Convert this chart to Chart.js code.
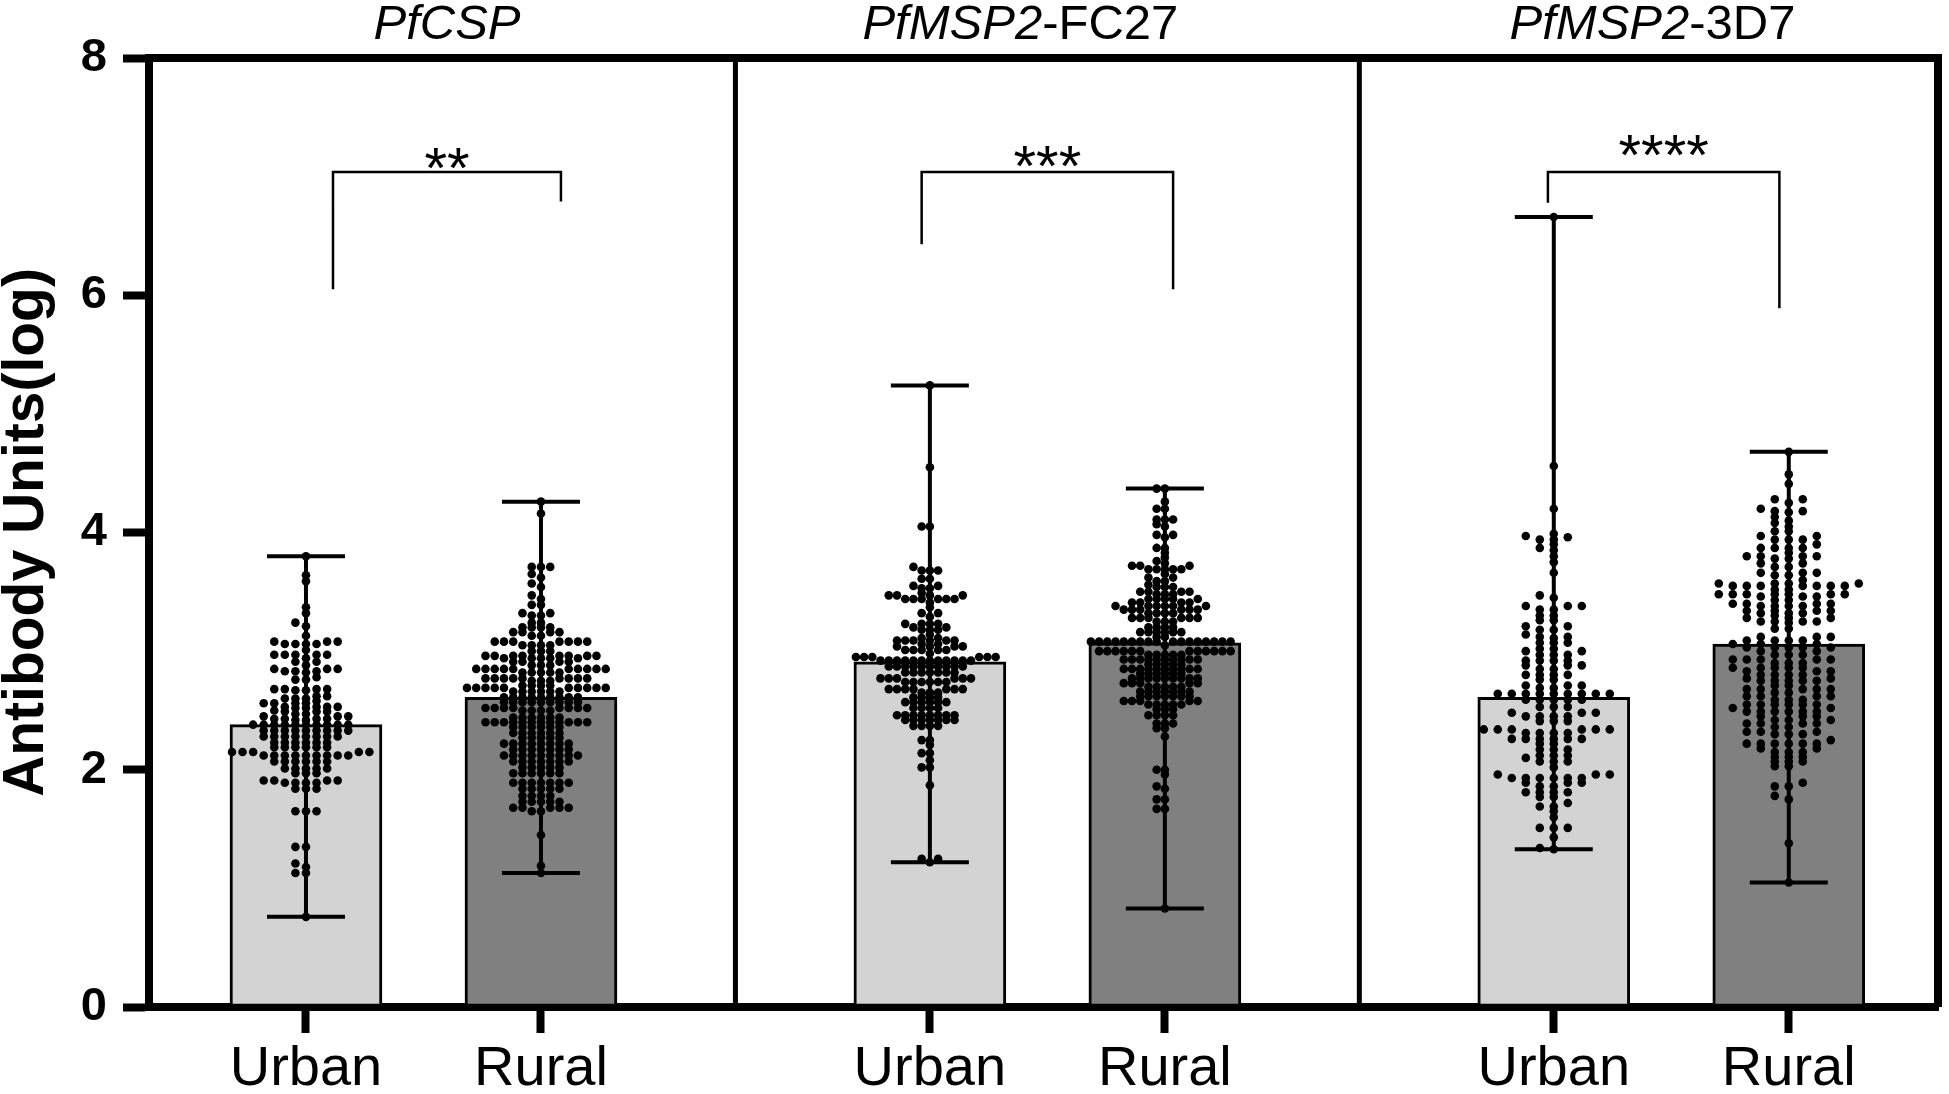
<!DOCTYPE html>
<html lang="en">
<head>
<meta charset="UTF-8">
<title>Antibody Units: Urban vs Rural</title>
<script src="https://cdn.jsdelivr.net/npm/chart.js"></script>
<style>
  html, body { margin: 0; padding: 0; background: #fff; overflow: hidden; }
  canvas { display: block; }
</style>
</head>
<body>
<canvas id="chartCanvas" width="1949" height="1094"></canvas>
<script>
const FONT = "'Liberation Sans', Arial, Helvetica, sans-serif";

// panels / groups
const antigens = ['PfCSP', 'PfMSP2-FC27', 'PfMSP2-3D7'];
const titleItalic = ['PfCSP', 'PfMSP2', 'PfMSP2'];
const titlePlain = ['', '-FC27', '-3D7'];
const groups = ['Urban', 'Rural'];
const yTicks = [0, 2, 4, 6, 8];

// bar height and min-max whiskers (one per panel)
const urbanMean = [2.38, 2.91, 2.61];
const ruralMean = [2.61, 3.07, 3.06];
const urbanMin = [0.76, 1.22, 1.33];
const urbanMax = [3.80, 5.24, 6.66];
const ruralMin = [1.13, 0.83, 1.05];
const ruralMax = [4.26, 4.37, 4.68];

// significance brackets
const stars = ['**', '***', '****'];
const bracketTop = [7.04, 7.04, 7.04];
const bracketLeftEnd = [6.05, 6.43, 6.78];
const bracketRightEnd = [6.79, 6.05, 5.89];
const starLevel = [7.18, 7.20, 7.29];

// individual subjects
const cspUrban = [3.80, 3.64, 3.59, 3.37, 3.32, 3.24, 3.21, 3.13,
  3.08, 3.08, 3.08, 3.06, 3.06, 3.06, 3.06, 3.01,
  2.97, 2.97, 2.97, 2.97, 2.97, 2.94, 2.91, 2.91, 2.88,
  2.85, 2.85, 2.85, 2.83, 2.83, 2.83, 2.82, 2.78, 2.76, 2.76,
  2.68, 2.68, 2.68, 2.68, 2.67, 2.67, 2.62, 2.62, 2.60, 2.60, 2.60, 2.58,
  2.56, 2.56, 2.56, 2.56, 2.53, 2.53, 2.53, 2.53, 2.52, 2.52, 2.50,
  2.49, 2.49, 2.49, 2.47, 2.47, 2.45, 2.45, 2.45, 2.43, 2.43, 2.43, 2.43, 2.42, 2.42,
  2.38, 2.38, 2.38, 2.38, 2.38, 2.38, 2.38, 2.38, 2.38, 2.38,
  2.33, 2.33, 2.33, 2.33, 2.33, 2.33, 2.33, 2.33, 2.33,
  2.28, 2.28, 2.28, 2.28, 2.28, 2.28, 2.28, 2.28,
  2.23, 2.23, 2.23, 2.23, 2.23, 2.23,
  2.19, 2.19, 2.19, 2.19, 2.19, 2.19,
  2.15, 2.15, 2.15, 2.15, 2.15,
  2.12, 2.12, 2.12, 2.12, 2.12, 2.12, 2.12, 2.12, 2.12,
  2.07, 2.07, 2.07, 2.07, 2.07, 2.07,
  2.01, 2.01, 2.01, 2.01, 2.01,
  1.97, 1.97, 1.97, 1.91, 1.91, 1.91, 1.91, 1.89, 1.89, 1.89, 1.89,
  1.84, 1.84, 1.84, 1.65, 1.65, 1.65, 1.35, 1.35, 1.21, 1.18, 1.13, 1.13, 0.76];

const cspRural = [4.26, 4.16, 3.71, 3.71, 3.71, 3.65, 3.62, 3.57, 3.54, 3.47, 3.44, 3.39, 3.39,
  3.32, 3.32, 3.30, 3.30, 3.24, 3.24, 3.20, 3.20, 3.20, 3.20, 3.16, 3.16, 3.16, 3.16, 3.13, 3.13,
  3.08, 3.08, 3.08, 3.08, 3.08, 3.08, 3.08, 3.05, 3.05, 3.05, 3.05, 3.00, 3.00, 3.00,
  2.96, 2.96, 2.96, 2.96, 2.96, 2.96, 2.96, 2.96, 2.94, 2.94, 2.94, 2.94, 2.94,
  2.91, 2.91, 2.91, 2.91, 2.88, 2.88, 2.88,
  2.85, 2.85, 2.85, 2.85, 2.85, 2.85, 2.85, 2.85, 2.85, 2.85, 2.82, 2.82, 2.82, 2.82, 2.82,
  2.77, 2.77, 2.77, 2.77, 2.77, 2.77, 2.77, 2.77, 2.77, 2.75, 2.75, 2.75, 2.71, 2.71, 2.71, 2.71,
  2.69, 2.69, 2.69, 2.69, 2.69, 2.69, 2.69, 2.69, 2.69, 2.69, 2.66, 2.66, 2.66, 2.66, 2.66, 2.66,
  2.61, 2.61, 2.61, 2.61, 2.61, 2.61, 2.61, 2.61, 2.61,
  2.57, 2.57, 2.57, 2.57, 2.57, 2.57, 2.57, 2.57, 2.57,
  2.52, 2.52, 2.52, 2.52, 2.52, 2.52, 2.52, 2.52, 2.50, 2.50, 2.50, 2.50,
  2.44, 2.44, 2.44, 2.44, 2.44, 2.44,
  2.40, 2.40, 2.40, 2.40, 2.40, 2.40, 2.40, 2.40, 2.40, 2.40, 2.40, 2.40,
  2.36, 2.36, 2.36, 2.36, 2.36, 2.36, 2.31, 2.31, 2.31, 2.31, 2.31, 2.31,
  2.27, 2.27, 2.27, 2.27, 2.27, 2.22, 2.22, 2.22, 2.22, 2.22, 2.22, 2.22, 2.22,
  2.17, 2.17, 2.17, 2.17, 2.17, 2.17, 2.17,
  2.12, 2.12, 2.12, 2.12, 2.12, 2.12, 2.12, 2.12, 2.12,
  2.07, 2.07, 2.07, 2.07, 2.07, 2.07, 2.07, 2.02, 2.02, 2.02, 2.02, 2.02,
  1.97, 1.97, 1.97, 1.97, 1.97, 1.97, 1.89, 1.89, 1.89, 1.89, 1.89, 1.89, 1.89,
  1.84, 1.84, 1.84, 1.84, 1.84, 1.78, 1.78, 1.78, 1.78,
  1.73, 1.73, 1.73, 1.73, 1.73, 1.68, 1.68, 1.68, 1.68, 1.68, 1.65, 1.65,
  1.45, 1.19, 1.13];

const fc27Urban = [5.24, 4.55, 4.05, 4.05, 3.71, 3.68, 3.68, 3.68, 3.61, 3.61, 3.55, 3.55, 3.53, 3.53,
  3.49, 3.47, 3.47, 3.47, 3.47, 3.44, 3.44, 3.44, 3.44, 3.44, 3.44, 3.41, 3.37, 3.32, 3.32, 3.29,
  3.23, 3.23, 3.23, 3.23, 3.20, 3.20, 3.18, 3.18, 3.18, 3.14, 3.11, 3.11,
  3.09, 3.09, 3.09, 3.09, 3.09, 3.09, 3.06, 3.06, 3.04, 3.04, 3.04, 3.04,
  3.01, 3.01, 3.01, 3.01, 3.01, 2.98, 2.95, 2.95, 2.95, 2.95, 2.95, 2.95,
  2.92, 2.92, 2.92, 2.92, 2.92, 2.92, 2.92, 2.92, 2.92, 2.92, 2.92, 2.92,
  2.87, 2.87, 2.87, 2.87, 2.87, 2.87, 2.87, 2.87, 2.87, 2.87,
  2.82, 2.82, 2.82, 2.82, 2.82, 2.82, 2.82, 2.77, 2.77, 2.77, 2.77, 2.77, 2.77,
  2.74, 2.74, 2.74, 2.74, 2.74, 2.74, 2.68, 2.68, 2.68, 2.68, 2.68, 2.68, 2.68,
  2.65, 2.65, 2.65, 2.61, 2.61, 2.61, 2.61, 2.57, 2.57, 2.57, 2.57, 2.57, 2.57,
  2.52, 2.52, 2.52, 2.52, 2.46, 2.46, 2.46, 2.46, 2.46, 2.46, 2.46, 2.46,
  2.42, 2.42, 2.42, 2.42, 2.42, 2.42, 2.42, 2.37, 2.37, 2.37, 2.37,
  2.25, 2.25, 2.21, 2.14, 2.14, 2.08, 2.02, 2.02, 1.87, 1.25, 1.25, 1.22];

const fc27Rural = [4.37, 4.37, 4.26, 4.20, 4.20, 4.11, 4.11, 4.11, 4.07, 4.05, 3.98, 3.98, 3.96,
  3.87, 3.87, 3.83, 3.79, 3.76, 3.74, 3.72, 3.72, 3.72, 3.69, 3.69, 3.69, 3.69, 3.69,
  3.65, 3.62, 3.62, 3.59, 3.59, 3.56, 3.54, 3.54, 3.54, 3.50, 3.50, 3.50, 3.50, 3.48, 3.48, 3.48,
  3.44, 3.44, 3.44, 3.44, 3.44, 3.41, 3.41, 3.41, 3.41,
  3.38, 3.38, 3.38, 3.38, 3.38, 3.38, 3.35, 3.35, 3.35, 3.35, 3.35, 3.35, 3.32, 3.32, 3.32, 3.32,
  3.28, 3.28, 3.28, 3.28, 3.28, 3.28, 3.25, 3.25, 3.25, 3.20, 3.20, 3.20, 3.20,
  3.16, 3.16, 3.16, 3.16, 3.16, 3.16, 3.12, 3.12,
  3.08, 3.08, 3.08, 3.08, 3.08, 3.08, 3.08, 3.08, 3.08, 3.08, 3.08, 3.08, 3.08, 3.08, 3.08, 3.08, 3.08,
  3.05, 3.00, 3.00, 3.00, 3.00, 3.00, 3.00, 3.00, 3.00, 3.00, 3.00, 3.00, 3.00,
  2.97, 2.97, 2.97, 2.97, 2.97, 2.93, 2.93, 2.93, 2.93, 2.93, 2.93, 2.93, 2.93, 2.93, 2.93,
  2.89, 2.89, 2.89, 2.89, 2.89, 2.85, 2.85, 2.85, 2.85, 2.85, 2.85, 2.85, 2.85, 2.85, 2.85,
  2.81, 2.81, 2.81, 2.81, 2.81, 2.81, 2.77, 2.77, 2.77, 2.77, 2.77, 2.77, 2.77, 2.77, 2.77,
  2.73, 2.73, 2.73, 2.73, 2.73, 2.70, 2.70, 2.70, 2.70, 2.70,
  2.66, 2.66, 2.66, 2.66, 2.66, 2.66, 2.66, 2.62, 2.62, 2.62, 2.62, 2.62, 2.62, 2.62,
  2.58, 2.58, 2.58, 2.58, 2.58, 2.55, 2.55, 2.55, 2.55, 2.55, 2.51, 2.51, 2.51,
  2.46, 2.46, 2.46, 2.46, 2.39, 2.39, 2.39, 2.35, 2.35, 2.28,
  2.00, 2.00, 1.96, 1.86, 1.84, 1.75, 1.75, 1.67, 1.67, 0.83];

const d7Urban = [6.66, 4.56, 4.20, 3.99, 3.97, 3.96, 3.94, 3.94, 3.90, 3.87, 3.85, 3.80, 3.75, 3.66,
  3.47, 3.45, 3.38, 3.38, 3.38, 3.35, 3.35, 3.30, 3.30, 3.26, 3.26, 3.21, 3.21, 3.18, 3.18,
  3.14, 3.12, 3.12, 3.11, 3.07, 3.07, 3.07, 3.02, 3.02, 3.00, 3.00, 2.97, 2.97, 2.97,
  2.92, 2.92, 2.92, 2.92, 2.88, 2.88, 2.88, 2.85, 2.85, 2.80, 2.80, 2.80, 2.80, 2.76, 2.76,
  2.71, 2.71, 2.71, 2.69, 2.69, 2.64, 2.64, 2.64, 2.64, 2.64, 2.64, 2.64, 2.64, 2.64,
  2.59, 2.59, 2.59, 2.59, 2.59, 2.53, 2.53, 2.53, 2.48, 2.48, 2.48, 2.45, 2.45, 2.45, 2.45,
  2.41, 2.41, 2.41, 2.34, 2.34, 2.34, 2.34, 2.34, 2.34, 2.31, 2.31, 2.31, 2.31,
  2.26, 2.26, 2.26, 2.26, 2.26, 2.26, 2.22, 2.22, 2.17, 2.17, 2.17, 2.12, 2.12, 2.12, 2.10,
  2.07, 2.07, 2.07, 2.02, 1.96, 1.96, 1.96, 1.93, 1.93, 1.93, 1.93, 1.93, 1.93,
  1.89, 1.89, 1.89, 1.86, 1.86, 1.81, 1.81, 1.81, 1.81, 1.77, 1.77, 1.72, 1.69, 1.69,
  1.65, 1.60, 1.51, 1.51, 1.51, 1.43, 1.34, 1.33];

const d7Rural = [4.68, 4.49, 4.41, 4.28, 4.28, 4.25, 4.20, 4.18, 4.18, 4.17, 4.13, 4.10, 4.08, 4.05,
  4.01, 4.01, 3.97, 3.97, 3.94, 3.94, 3.94, 3.90, 3.87, 3.87, 3.87, 3.87, 3.83,
  3.80, 3.80, 3.80, 3.80, 3.78, 3.78, 3.74, 3.74, 3.71, 3.71, 3.66, 3.66, 3.66, 3.64, 3.64, 3.60,
  3.57, 3.57, 3.57, 3.57, 3.55, 3.55, 3.55, 3.55, 3.55, 3.55, 3.55, 3.52, 3.52,
  3.48, 3.48, 3.48, 3.48, 3.48, 3.48, 3.48, 3.46, 3.46, 3.46, 3.43, 3.43,
  3.40, 3.40, 3.40, 3.40, 3.38, 3.38, 3.38, 3.38, 3.34, 3.34, 3.34, 3.34, 3.32, 3.32, 3.32, 3.30,
  3.28, 3.28, 3.28, 3.25, 3.25, 3.25, 3.25, 3.24, 3.19, 3.19, 3.12, 3.12, 3.12,
  3.09, 3.09, 3.09, 3.09, 3.06, 3.06, 3.06, 3.03, 3.03, 3.03, 3.03, 3.03, 3.00, 3.00,
  2.97, 2.97, 2.97, 2.93, 2.93, 2.93, 2.93, 2.93, 2.90, 2.90, 2.90,
  2.86, 2.86, 2.86, 2.86, 2.86, 2.83, 2.83, 2.83, 2.80, 2.80, 2.80, 2.80, 2.77, 2.77,
  2.75, 2.75, 2.75, 2.75, 2.75, 2.71, 2.71, 2.68, 2.68, 2.68, 2.68, 2.68, 2.65, 2.65,
  2.62, 2.62, 2.62, 2.62, 2.59, 2.59, 2.59, 2.55, 2.55, 2.55, 2.55, 2.55, 2.55, 2.52, 2.52,
  2.49, 2.49, 2.49, 2.49, 2.49, 2.49, 2.45, 2.45, 2.45, 2.42, 2.42, 2.42,
  2.39, 2.39, 2.39, 2.39, 2.36, 2.36, 2.32, 2.32, 2.32, 2.30, 2.30, 2.30, 2.25,
  2.22, 2.22, 2.22, 2.22, 2.22, 2.22, 2.18, 2.18, 2.15, 2.15, 2.15, 2.11, 2.11, 2.11,
  2.07, 2.07, 2.07, 2.03, 2.03, 1.89, 1.86, 1.86, 1.78, 1.75, 1.38, 1.05];

// layout in x-axis units (one unit = Urban-to-Rural spacing)
const PANEL_STEP = 2.655;
const X_MIN = -0.668, X_MAX = 6.945;
const titleX = [0.60, 3.04, 5.73];
const bracketLeftX = [0.115, 2.62, 5.285];
const bracketRightX = [1.085, 3.69, 6.27];

const barX = [], barY = [], barLow = [], barHigh = [];
antigens.forEach((a, p) => {
  barX.push(p * PANEL_STEP, p * PANEL_STEP + 1);
  barY.push(urbanMean[p], ruralMean[p]);
  barLow.push(urbanMin[p], ruralMin[p]);
  barHigh.push(urbanMax[p], ruralMax[p]);
});
const dotSets = [cspUrban, cspRural, fc27Urban, fc27Rural, d7Urban, d7Rural];

const decor = {
  id: 'decor',
  afterDatasetDraw(chart, args) {
    if (args.index !== 0) return;
    // min-max whiskers on top of the bars
    const { ctx, scales: { x: xs, y: ys } } = chart;
    ctx.save();
    ctx.strokeStyle = '#000';
    ctx.lineWidth = 4;
    barX.forEach((bx, i) => {
      const px = xs.getPixelForValue(bx);
      const top = ys.getPixelForValue(barHigh[i]);
      const bot = ys.getPixelForValue(barLow[i]);
      ctx.beginPath();
      ctx.moveTo(px, top); ctx.lineTo(px, bot);
      ctx.moveTo(px - 39, top); ctx.lineTo(px + 39, top);
      ctx.moveTo(px - 39, bot); ctx.lineTo(px + 39, bot);
      ctx.stroke();
    });
    ctx.restore();
  },
  afterDraw(chart) {
    const { ctx, chartArea: a, scales: { x: xs, y: ys } } = chart;
    ctx.save();
    ctx.strokeStyle = '#000';
    ctx.fillStyle = '#000';

    // closing frame (top, right) and panel dividers
    ctx.lineWidth = 8;
    ctx.beginPath();
    ctx.moveTo(a.left - 4, a.top); ctx.lineTo(a.right + 4, a.top);
    ctx.moveTo(a.right, a.top); ctx.lineTo(a.right, a.bottom);
    ctx.stroke();
    ctx.lineWidth = 5;
    for (let p = 0; p < antigens.length - 1; p++) {
      const dx = xs.getPixelForValue(p * PANEL_STEP + (1 + PANEL_STEP) / 2);
      ctx.beginPath(); ctx.moveTo(dx, a.top); ctx.lineTo(dx, a.bottom); ctx.stroke();
    }

    // brackets + stars
    ctx.lineWidth = 2.5;
    ctx.textAlign = 'center';
    ctx.textBaseline = 'alphabetic';
    ctx.font = `58px ${FONT}`;
    antigens.forEach((name, p) => {
      const x1 = xs.getPixelForValue(bracketLeftX[p]);
      const x2 = xs.getPixelForValue(bracketRightX[p]);
      const yt = ys.getPixelForValue(bracketTop[p]);
      ctx.beginPath();
      ctx.moveTo(x1, ys.getPixelForValue(bracketLeftEnd[p]));
      ctx.lineTo(x1, yt); ctx.lineTo(x2, yt);
      ctx.lineTo(x2, ys.getPixelForValue(bracketRightEnd[p]));
      ctx.stroke();
      ctx.fillText(stars[p], (x1 + x2) / 2, ys.getPixelForValue(starLevel[p]) + 0.57 * 58);
    });

    // panel titles, gene name part in italics
    const size = 49;
    antigens.forEach((name, p) => {
      ctx.font = `italic ${size}px ${FONT}`;
      const w1 = ctx.measureText(titleItalic[p]).width;
      ctx.font = `${size}px ${FONT}`;
      const w2 = ctx.measureText(titlePlain[p]).width;
      const x0 = xs.getPixelForValue(titleX[p]) - (w1 + w2) / 2;
      const yb = a.top - 19.5;
      ctx.textAlign = 'left';
      ctx.font = `italic ${size}px ${FONT}`;
      ctx.fillText(titleItalic[p], x0, yb);
      ctx.font = `${size}px ${FONT}`;
      ctx.fillText(titlePlain[p], x0 + w1, yb);
    });
    ctx.restore();
  }
};

Chart.defaults.font.family = FONT;
Chart.defaults.color = '#000';

const chart = new Chart(document.getElementById('chartCanvas'), {
  type: 'bar',
  data: {
    datasets: [
      {
        type: 'bar',
        data: barX.map((x, i) => ({ x, y: barY[i] })),
        backgroundColor: barX.map((x, i) => (i % 2 ? '#808080' : '#d3d3d3')),
        borderColor: '#000',
        borderWidth: 3,
        borderSkipped: false,
        barThickness: 152,
        order: 1
      },
      ...dotSets.map(() => ({
        type: 'scatter',
        data: [],
        pointRadius: 4.3,
        pointHoverRadius: 4.3,
        pointBackgroundColor: '#000',
        pointBorderWidth: 0,
        order: 0
      }))
    ]
  },
  options: {
    responsive: false,
    animation: false,
    devicePixelRatio: 1,
    layout: { padding: { top: 58, right: 11, bottom: 0, left: 0 } },
    plugins: { legend: { display: false }, tooltip: { enabled: false } },
    scales: {
      x: {
        type: 'linear',
        min: X_MIN,
        max: X_MAX,
        offset: false,
        afterBuildTicks: s => { s.ticks = barX.map(value => ({ value })); },
        afterFit: s => { s.height = 87; },
        ticks: {
          callback: (v, i) => groups[i % 2],
          color: '#000',
          font: { size: 56 },
          padding: 3,
          maxRotation: 0,
          minRotation: 0,
          autoSkip: false
        },
        grid: { offset: false, drawOnChartArea: false, tickLength: 26, tickWidth: 8, tickColor: '#000' },
        border: { display: true, color: '#000', width: 8 }
      },
      y: {
        min: 0,
        max: 8,
        afterBuildTicks: s => { s.ticks = yTicks.map(value => ({ value })); },
        afterFit: s => { s.width = 149; },
        ticks: { color: '#000', font: { size: 47, weight: 'bold' }, padding: 16 },
        grid: { drawOnChartArea: false, tickLength: 26, tickWidth: 8, tickColor: '#000' },
        border: { display: true, color: '#000', width: 8 },
        title: {
          display: true,
          text: 'Antibody Units(log)',
          color: '#000',
          font: { size: 57, weight: 'bold' },
          padding: { top: -7, bottom: 0 }
        }
      }
    }
  },
  plugins: [decor]
});

// Prism-like column scatter: stack dots in columns around the bar centre
function swarm(values, centre) {
  const xs = chart.scales.x, ys = chart.scales.y;
  const cx = xs.getPixelForValue(centre);
  const cols = {};
  const placed = [];
  values.slice().sort((a, b) => a - b).forEach(v => {
    const py = ys.getPixelForValue(v);
    for (let j = 0; ; j++) {
      const k = j === 0 ? 0 : (j % 2 ? -(j + 1) / 2 : j / 2);
      const col = cols[k] || (cols[k] = []);
      if (col.every(q => Math.abs(q - py) >= 4.5)) {
        col.push(py);
        placed.push({ k, v });
        break;
      }
    }
  });
  const maxK = Math.max(1, ...placed.map(p => Math.abs(p.k)));
  const step = Math.min(14, 74 / maxK);
  return placed.map(p => ({ x: xs.getValueForPixel(cx + p.k * step), y: p.v }));
}

dotSets.forEach((vals, i) => {
  chart.data.datasets[i + 1].data = swarm(vals, barX[i]);
});
chart.update('none');
</script>
</body>
</html>
